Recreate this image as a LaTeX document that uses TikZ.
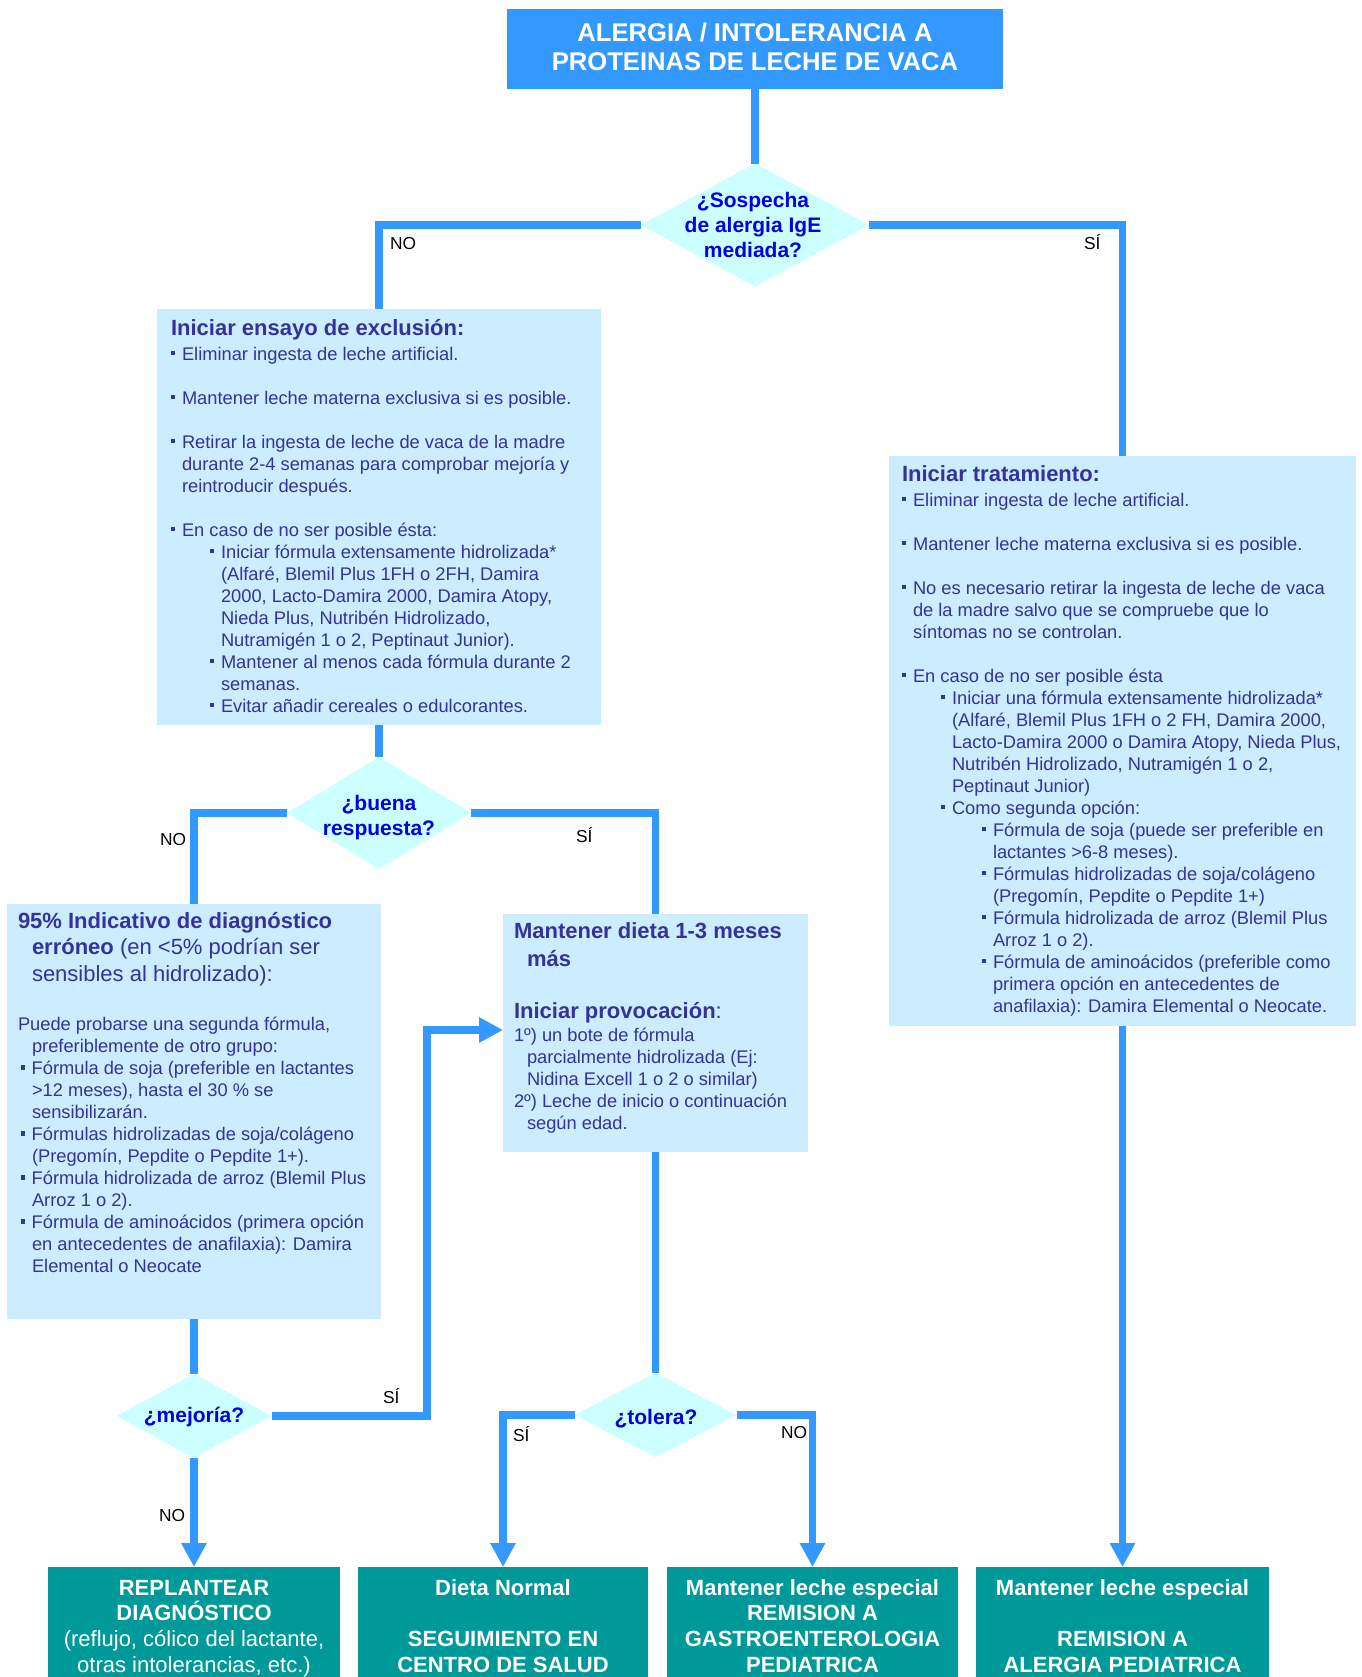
\documentclass[tikz,border=0pt]{standalone}
\usepackage{fontspec}
\setmainfont{Liberation Sans}
\usetikzlibrary{shapes.geometric,arrows.meta,fit}
\definecolor{lineblue}{HTML}{3399FF}
\definecolor{boxblue}{HTML}{CCECFF}
\definecolor{diafill}{HTML}{CCFFFF}
\definecolor{navytxt}{HTML}{333399}
\definecolor{qblue}{HTML}{0000E0}
\definecolor{tealbox}{HTML}{009999}
\newcommand\bul{\makebox[8.25pt][l]{\rule[3.75pt]{3.2pt}{3.2pt}}}
\newcommand\hfnt{\fontsize{16.5}{19.8}\selectfont\bfseries}
\newcommand\bfnt{\fontsize{16.5}{19.8}\selectfont\mdseries}
\newcommand\stt{\rule{0pt}{15pt}}
\tikzset{
  every node/.style={inner sep=0pt, outer sep=0pt},
  conn/.style={draw=lineblue, line width=5.6pt},
  arr/.style={conn, -{Triangle[length=18pt,width=18pt]}},
  panel/.style={fill=boxblue, draw=none, rectangle},
  endbox/.style={fill=tealbox, draw=none, rectangle},
  headbox/.style={fill=lineblue, draw=none, rectangle},
  question/.style={diamond, fill=diafill, draw=none},
  qtext/.style={anchor=north, align=center, text=qblue, font=\fontsize{15.75}{18.75}\selectfont\bfseries},
  bodytext/.style={anchor=north west, align=left, text=navytxt, font=\fontsize{13.72}{16.5}\selectfont},
  endtext/.style={anchor=north, align=center, text=white, font=\fontsize{16.5}{19.3}\selectfont\bfseries},
  titletext/.style={anchor=north, align=center, text=white, font=\fontsize{19.2}{22.1}\selectfont\bfseries},
  lbl/.style={anchor=base west, text=black, font=\fontsize{13}{16}\selectfont},
}
\begin{document}
\begin{tikzpicture}[x=0.75pt,y=-0.75pt]
\clip (0,0) rectangle (1362,1677);
\fill[white] (0,0) rectangle (1362,1677);

% title
\node[headbox, fit={(507,9) (1003,89)}] (title) {};
\node[titletext] (titletxt) at (755,21.5) {\stt ALERGIA / INTOLERANCIA A\\PROTEINAS DE LECHE DE VACA};

% question 1
\node[question, minimum width=171pt, minimum height=92.25pt] (q1) at (755,225) {};
\node[qtext] (q1t) at (753,187) {\stt ¿Sospecha\\de alergia IgE\\mediada?};

% exclusion panel
\node[panel, fit={(157,309) (601,725)}] (exc) {};
\node[bodytext] (exct) at (171,315) {\stt{\hfnt Iniciar ensayo de exclusión:}\\[2.25pt]
\bul Eliminar ingesta de leche artificial.\\[16.5pt]
\bul Mantener leche materna exclusiva si es posible.\\[16.5pt]
\bul Retirar la ingesta de leche de vaca de la madre\\
\hspace*{8.25pt}durante 2-4 semanas para comprobar mejoría y\\
\hspace*{8.25pt}reintroducir después.\\[16.5pt]
\bul En caso de no ser posible ésta:\\
\hspace*{29.25pt}\bul Iniciar fórmula extensamente hidrolizada*\\
\hspace*{37.5pt}(Alfaré, Blemil Plus 1FH o 2FH, Damira\\
\hspace*{37.5pt}2000, Lacto-Damira 2000, Damira Atopy,\\
\hspace*{37.5pt}Nieda Plus, Nutribén Hidrolizado,\\
\hspace*{37.5pt}Nutramigén 1 o 2, Peptinaut Junior).\\
\hspace*{29.25pt}\bul Mantener al menos cada fórmula durante 2\\
\hspace*{37.5pt}semanas.\\
\hspace*{29.25pt}\bul Evitar añadir cereales o edulcorantes.};

% treatment panel
\node[panel, fit={(889,456) (1356,1026)}] (trt) {};
\node[bodytext] (trtt) at (902,461) {\stt{\hfnt Iniciar tratamiento:}\\[2.25pt]
\bul Eliminar ingesta de leche artificial.\\[16.5pt]
\bul Mantener leche materna exclusiva si es posible.\\[16.5pt]
\bul No es necesario retirar la ingesta de leche de vaca\\
\hspace*{8.25pt}de la madre salvo que se compruebe que lo\\
\hspace*{8.25pt}síntomas no se controlan.\\[16.5pt]
\bul En caso de no ser posible ésta\\
\hspace*{29.25pt}\bul Iniciar una fórmula extensamente hidrolizada*\\
\hspace*{37.5pt}(Alfaré, Blemil Plus 1FH o 2 FH, Damira 2000,\\
\hspace*{37.5pt}Lacto-Damira 2000 o Damira Atopy, Nieda Plus,\\
\hspace*{37.5pt}Nutribén Hidrolizado, Nutramigén 1 o 2,\\
\hspace*{37.5pt}Peptinaut Junior)\\
\hspace*{29.25pt}\bul Como segunda opción:\\
\hspace*{60pt}\bul Fórmula de soja (puede ser preferible en\\
\hspace*{68.25pt}lactantes >6-8 meses).\\
\hspace*{60pt}\bul Fórmulas hidrolizadas de soja/colágeno\\
\hspace*{68.25pt}(Pregomín, Pepdite o Pepdite 1+)\\
\hspace*{60pt}\bul Fórmula hidrolizada de arroz (Blemil Plus\\
\hspace*{68.25pt}Arroz 1 o 2).\\
\hspace*{60pt}\bul Fórmula de aminoácidos (preferible como\\
\hspace*{68.25pt}primera opción en antecedentes de\\
\hspace*{68.25pt}anafilaxia): Damira Elemental o Neocate.};

% question 2
\node[question, minimum width=138pt, minimum height=84pt] (q2) at (379,813) {};
\node[qtext] (q2t) at (379,790) {\stt ¿buena\\respuesta?};

% erroneous diagnosis panel
\node[panel, fit={(7,904) (381,1319)}] (err) {};
\node[bodytext] (errt) at (18,908) {\stt{\hfnt 95\% Indicativo de diagnóstico}\\[3.4pt]
\hspace*{10.5pt}{\hfnt erróneo}{\bfnt{} (en <5\% podrían ser}\\[3.4pt]
\hspace*{10.5pt}{\bfnt sensibles al hidrolizado):}\\[20.6pt]
Puede probarse una segunda fórmula,\\
\hspace*{10.5pt}preferiblemente de otro grupo:\\
\hspace*{2pt}\bul Fórmula de soja (preferible en lactantes\\
\hspace*{10.5pt}>12 meses), hasta el 30 \% se\\
\hspace*{10.5pt}sensibilizarán.\\
\hspace*{2pt}\bul Fórmulas hidrolizadas de soja/colágeno\\
\hspace*{10.5pt}(Pregomín, Pepdite o Pepdite 1+).\\
\hspace*{2pt}\bul Fórmula hidrolizada de arroz (Blemil Plus\\
\hspace*{10.5pt}Arroz 1 o 2).\\
\hspace*{2pt}\bul Fórmula de aminoácidos (primera opción\\
\hspace*{10.5pt}en antecedentes de anafilaxia): Damira\\
\hspace*{10.5pt}Elemental o Neocate};

% maintain diet panel
\node[panel, fit={(503,914) (808,1152)}] (mant) {};
\node[bodytext] (mantt) at (514,918) {\stt{\hfnt Mantener dieta 1-3 meses}\\[4.5pt]
\hspace*{9.75pt}{\hfnt más}\\[22.5pt]
{\hfnt Iniciar provocación}{\bfnt :}\\[1.1pt]
1º) un bote de fórmula\\
\hspace*{9.75pt}parcialmente hidrolizada (Ej:\\
\hspace*{9.75pt}Nidina Excell 1 o 2 o similar)\\
2º) Leche de inicio o continuación\\
\hspace*{9.75pt}según edad.};

% questions 3 and 4
\node[question, minimum width=116.25pt, minimum height=63pt] (q3) at (194,1416) {};
\node[qtext] (q3t) at (194,1402) {\stt ¿mejoría?};
\node[question, minimum width=121.5pt, minimum height=63pt] (q4) at (655.5,1415) {};
\node[qtext] (q4t) at (656,1404) {\stt ¿tolera?};

% end boxes
\node[endbox, fit={(48,1567) (340,1700)}] (b1) {};
\node[endbox, fit={(358,1567) (648,1700)}] (b2) {};
\node[endbox, fit={(667,1567) (958,1700)}] (b3) {};
\node[endbox, fit={(976,1567) (1269,1700)}] (b4) {};
\node[endtext] (b1t) at (194,1575) {\stt REPLANTEAR\\DIAGNÓSTICO\\{\mdseries (reflujo, cólico del lactante,}\\{\mdseries otras intolerancias, etc.)}};
\node[endtext] (b2t) at (503,1575) {\stt Dieta Normal\\[19.3pt]SEGUIMIENTO EN\\CENTRO DE SALUD};
\node[endtext] (b3t) at (812.5,1575) {\stt Mantener leche especial\\REMISION A\\GASTROENTEROLOGIA\\PEDIATRICA};
\node[endtext] (b4t) at (1122.5,1575) {\stt Mantener leche especial\\[19.3pt]REMISION A\\ALERGIA PEDIATRICA};

% connectors
\coordinate (mjc) at (427,1030);
\draw[conn] (title.south) -- (q1.north);
\draw[conn] (q1.west) -| (exc.north);
\draw[conn] (q1.east) -| (trt.north);
\draw[conn] (exc.south) -- (q2.north);
\draw[conn] (q2.west) -| (err.north);
\draw[conn] (q2.east) -| (mant.north);
\draw[conn] (err.south) -- (q3.north);
\draw[arr] (q3.south) -- (b1.north);
\draw[arr] (q3.east) -| (mjc) -- (mant.west |- mjc);
\draw[conn] (mant.south) -- (q4.north);
\draw[arr] (q4.west) -| (b2.north);
\draw[arr] (q4.east) -| (b3.north);
\draw[arr] (trt.south) -- (b4.north);

% labels
\node[lbl] (l1) at (390,249) {NO};
\node[lbl] (l2) at (1084,249) {SÍ};
\node[lbl] (l3) at (160,845) {NO};
\node[lbl] (l4) at (576,842) {SÍ};
\node[lbl] (l5) at (383,1403) {SÍ};
\node[lbl] (l6) at (159,1521) {NO};
\node[lbl] (l7) at (513,1441) {SÍ};
\node[lbl] (l8) at (781,1438) {NO};
\end{tikzpicture}
\end{document}
